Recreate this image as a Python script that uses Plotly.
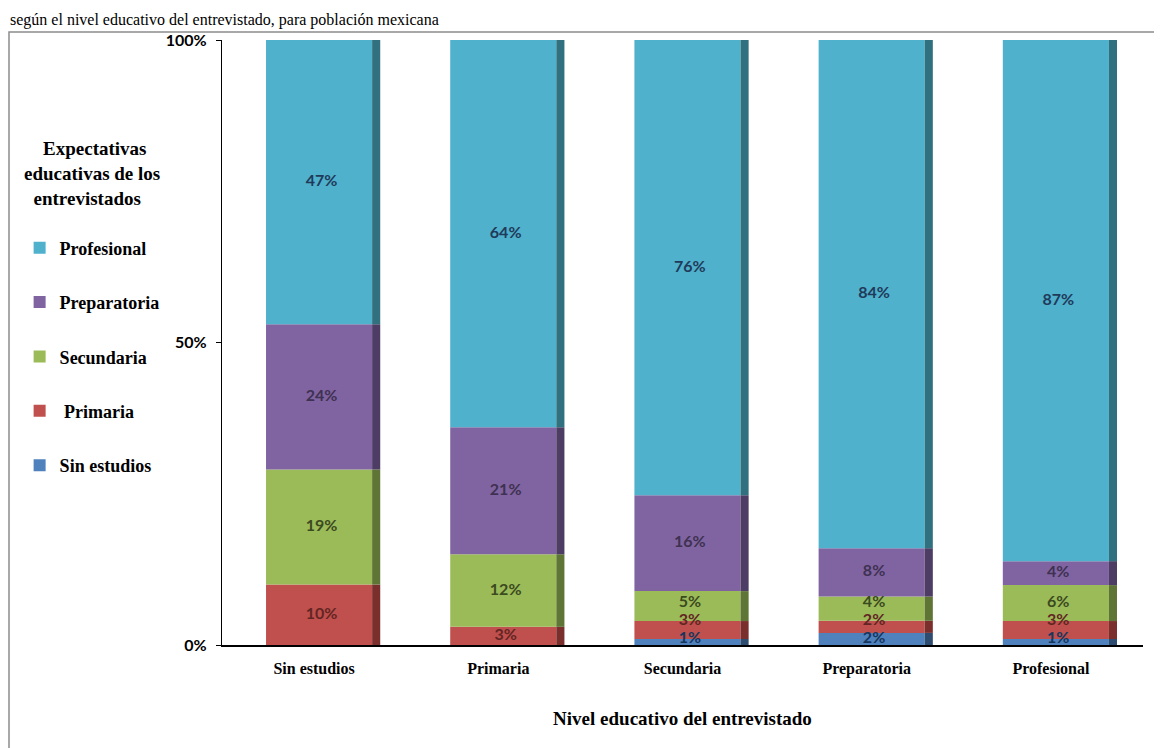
import plotly.graph_objects as go

categories = ["Sin estudios", "Primaria", "Secundaria", "Preparatoria", "Profesional"]

# shares (%) per expectation level, bottom to top
sin_estudios = [0, 0, 1, 2, 1]
primaria = [10, 3, 3, 2, 3]
secundaria = [19, 12, 5, 4, 6]
preparatoria = [24, 21, 16, 8, 4]
profesional = [47, 64, 76, 84, 87]

series = [
    ("Sin estudios", sin_estudios, "#4F81BD", "#2E4B70", "#17365D"),
    ("Primaria", primaria, "#C0504D", "#7A2F2D", "#632523"),
    ("Secundaria", secundaria, "#9BBB59", "#5E7535", "#3B4A1F"),
    ("Preparatoria", preparatoria, "#8064A2", "#4D3C63", "#3F3151"),
    ("Profesional", profesional, "#4FB1CC", "#31707F", "#1F3A5A"),
]

totals = [sum(s[1][i] for s in series) for i in range(len(categories))]

# plot area in figure pixels (used to place the frame and caption)
L, R, T, B = 214, 1135, 32, 637
W, H = R - L, B - T

fig = go.Figure()

base = [0.0] * len(categories)
last_label = [None] * len(categories)
for k, (name, vals, color, dark, txt) in enumerate(series):
    pct = [v / t * 100 for v, t in zip(vals, totals)]
    fig.add_trace(go.Bar(
        x=categories, y=pct, base=base[:],
        width=0.576, offset=-0.261,
        marker=dict(color=color, line=dict(width=0)),
        name=" " + name if name == "Primaria" else name,
        legendgroup=name, legendrank=10 - k,
        hoverinfo="skip",
    ))
    # darker side strip for the 3D look
    fig.add_trace(go.Bar(
        x=categories, y=pct, base=base[:],
        width=0.044, offset=0.315,
        marker=dict(color=dark, line=dict(width=0)),
        legendgroup=name, showlegend=False, hoverinfo="skip",
    ))
    # label positions: segment centre, pushed up so small labels don't collide
    ly, lx, lt = [], [], []
    for i, (b, p, v) in enumerate(zip(base, pct, vals)):
        if v <= 0:
            continue
        y = b + p / 2
        prev = last_label[i]
        y = max(y, 1.0 if prev is None else prev + 3.0)
        last_label[i] = y
        lx.append(i + 0.04)
        ly.append(y)
        lt.append(f"{v}%")
    fig.add_trace(go.Scatter(
        x=lx, y=ly, text=lt, mode="text", xaxis="x2",
        textfont=dict(family="Lato", size=16, color=txt, weight="bold"),
        showlegend=False, hoverinfo="skip",
    ))
    base = [b + p for b, p in zip(base, pct)]

nb = "\u00a0"
fig.update_layout(
    width=1162, height=748,
    barmode="overlay",
    plot_bgcolor="white", paper_bgcolor="white",
    margin=dict(l=L, r=1162 - R, t=T, b=748 - B),
    xaxis=dict(
        range=[-0.5, 4.5], automargin=False,
        showline=True, linecolor="black", linewidth=2,
        ticks="", showgrid=False, ticklabelstandoff=8,
        tickfont=dict(family="Liberation Serif", size=16, color="black", weight="bold"),
        title=dict(text="Nivel educativo del entrevistado", standoff=34,
                   font=dict(family="Liberation Serif", size=19, color="black", weight="bold")),
    ),
    xaxis2=dict(overlaying="x", range=[-0.5, 4.5], visible=False),
    yaxis=dict(
        range=[0, 100], automargin=False,
        tickvals=[0, 50, 100], ticktext=["0%", "50%", "100%"],
        showline=True, linecolor="black", linewidth=1.2,
        ticks="outside", ticklen=5, tickcolor="black", ticklabelstandoff=6,
        showgrid=False, zeroline=False,
        tickfont=dict(family="Lato", size=16, color="black", weight="bold"),
    ),
    legend=dict(
        xref="container", yref="container",
        x=0.01, y=0.836, xanchor="left", yanchor="top",
        tracegroupgap=28,
        font=dict(family="Liberation Serif", size=18, color="black", weight="bold"),
        title=dict(
            text=nb * 4 + "Expectativas<br>educativas de los<br>" + nb * 2 + "entrevistados<br> ",
            side="top center",
            font=dict(family="Liberation Serif", size=19, color="black", weight="bold"),
        ),
        itemwidth=30,
    ),
    shapes=[
        dict(type="rect", xref="paper", yref="paper",
             x0=(1 - L) / W, x1=(1175 - L) / W,
             y0=(B - 760) / H, y1=(B - 24) / H,
             line=dict(color="#8c8c8c", width=1.5), layer="below"),
    ],
    annotations=[
        dict(text="según el nivel educativo del entrevistado, para población mexicana",
             xref="paper", yref="paper", x=(0 - L) / W, y=(B - 1) / H,
             xanchor="left", yanchor="top", showarrow=False,
             font=dict(family="Liberation Serif", size=16, color="black")),
    ],
)

fig.write_html("out.html")
